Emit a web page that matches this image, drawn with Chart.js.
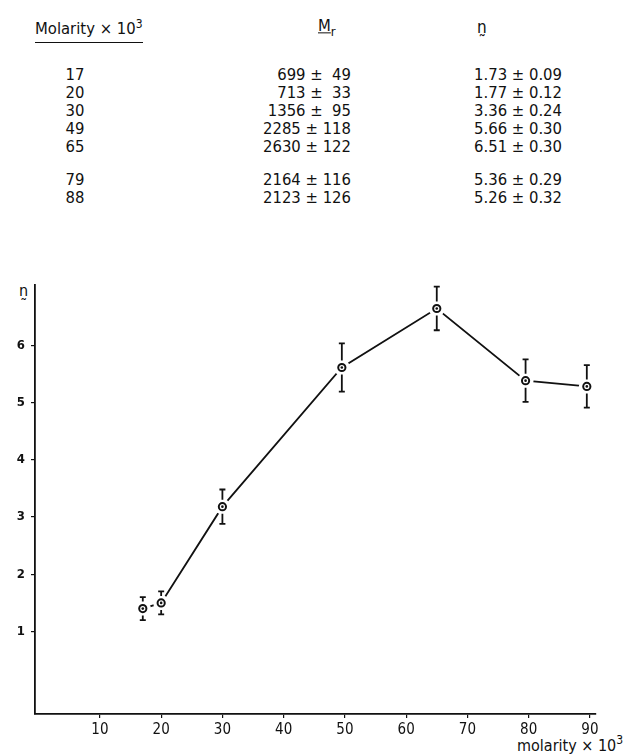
<!DOCTYPE html>
<html><head><meta charset="utf-8">
<script src="https://cdn.jsdelivr.net/npm/chart.js@4"></script>
<style>
body{margin:0;background:#fff;width:631px;height:755px;overflow:hidden;position:relative;font-family:"DejaVu Sans Condensed","DejaVu Sans",sans-serif;color:#111;}
.t{position:absolute;font-size:16.5px;white-space:pre;line-height:1;transform:translateY(-50%);}
.r{text-align:right;}
#wrap{position:absolute;left:0;top:260px;width:631px;height:495px;}
</style></head><body>
<div id="table"></div>
<div class="t" style="left:35px;top:27px;"><span style="border-bottom:1.5px solid #111;padding-bottom:4px;">Molarity × 10<sup style="font-size:12px;">3</sup></span></div>
<div class="t" style="left:318px;top:28px;"><span style="text-decoration:underline;">M</span><sub style="font-size:13px;">r</sub></div>
<div class="t" style="left:477px;top:27px;font-size:17px;">n̰</div>
<div class="t" style="left:19px;top:291px;font-size:16px;">n̰</div>
<div class="t" style="left:517px;top:744px;font-size:16px;">molarity × 10<sup style="font-size:12px;">3</sup></div>
<div id="wrap"><canvas id="c" width="631" height="495"></canvas></div>
<script>
// Table values
const tableMolarity=[17,20,30,49,65,79,88];
const tableMr=[699,713,1356,2285,2630,2164,2123];
const tableMrErr=[49,33,95,118,122,116,126];
const tableN=["1.73","1.77","3.36","5.66","6.51","5.36","5.26"];
const tableNErr=["0.09","0.12","0.24","0.30","0.30","0.29","0.32"];
const tableRowY=[75,93,111,129,147,180,198];

// Plot values
const plotX=[17,20,30,49.5,65,79.5,89.5];
const plotN=[1.40,1.50,3.18,5.61,6.64,5.38,5.28];
const plotErr=[0.2,0.2,0.3,0.42,0.38,0.37,0.37];
const xTicks=[10,20,30,40,50,60,70,80,90];
const yTicks=[1,2,3,4,5,6];

const tbl=document.getElementById('table');
tableMolarity.forEach((m,i)=>{
  const y=tableRowY[i];
  const pad=(v,w)=>String(v).padStart(w,' ');
  tbl.insertAdjacentHTML('beforeend',
   `<div class="t" style="left:50px;width:50px;text-align:center;top:${y}px">${m}</div>`+
   `<div class="t r" style="right:${631-351}px;top:${y}px">${tableMr[i]} ± ${pad(tableMrErr[i],3)}</div>`+
   `<div class="t r" style="right:${631-562}px;top:${y}px">${tableN[i]} ± ${tableNErr[i]}</div>`);
});

const FONT='"DejaVu Sans Condensed","DejaVu Sans",sans-serif';
const marks={id:'marks',afterDatasetsDraw(chart){
  const {ctx,scales:{x,y}}=chart;ctx.save();
  plotX.forEach((xv,i)=>{
    const px=x.getPixelForValue(xv),py=y.getPixelForValue(plotN[i]);
    const top=y.getPixelForValue(plotN[i]+plotErr[i]),bot=y.getPixelForValue(plotN[i]-plotErr[i]);
    ctx.fillStyle='#fff';ctx.beginPath();ctx.arc(px,py,8,0,2*Math.PI);ctx.fill();
    ctx.strokeStyle='#111';ctx.lineWidth=1.8;ctx.beginPath();
    ctx.moveTo(px,top);ctx.lineTo(px,py-7);ctx.moveTo(px,py+7);ctx.lineTo(px,bot);
    ctx.moveTo(px-3,top);ctx.lineTo(px+3,top);ctx.moveTo(px-3,bot);ctx.lineTo(px+3,bot);ctx.stroke();
    ctx.lineWidth=2;ctx.beginPath();ctx.arc(px,py,3.6,0,2*Math.PI);ctx.stroke();
    ctx.fillStyle='#111';ctx.beginPath();ctx.arc(px,py,1.3,0,2*Math.PI);ctx.fill();
  });ctx.restore();}};

new Chart(document.getElementById('c'),{
  type:'scatter',
  data:{datasets:[{data:plotX.map((x,i)=>({x,y:plotN[i]})),showLine:true,borderColor:'#111',borderWidth:1.8,pointRadius:0,tension:0}]},
  options:{responsive:false,animation:false,devicePixelRatio:1,
    layout:{padding:{top:25,right:35,left:0,bottom:0}},
    plugins:{legend:{display:false},tooltip:{enabled:false}},
    scales:{
      x:{type:'linear',min:-0.6,max:91,
        afterBuildTicks:s=>{s.ticks=xTicks.map(v=>({value:v}));},
        afterFit:s=>{s.height=41;},
        grid:{display:true,drawOnChartArea:false,drawTicks:true,tickLength:4,color:'#111',lineWidth:1.2},
        border:{display:true,color:'#111',width:1.8},
        ticks:{color:'#111',font:{size:15,family:FONT},padding:3,maxRotation:0}},
      y:{type:'linear',min:-0.44,max:7.05,
        afterBuildTicks:s=>{s.ticks=yTicks.map(v=>({value:v}));},
        afterFit:s=>{s.width=35;},
        grid:{display:true,drawOnChartArea:false,drawTicks:true,tickLength:4,color:'#111',lineWidth:1.2},
        border:{display:true,color:'#111',width:1.8},
        ticks:{color:'#111',font:{size:13,family:FONT,weight:'bold'},padding:6}}
    }},
  plugins:[marks]
});
</script>
</body></html>
